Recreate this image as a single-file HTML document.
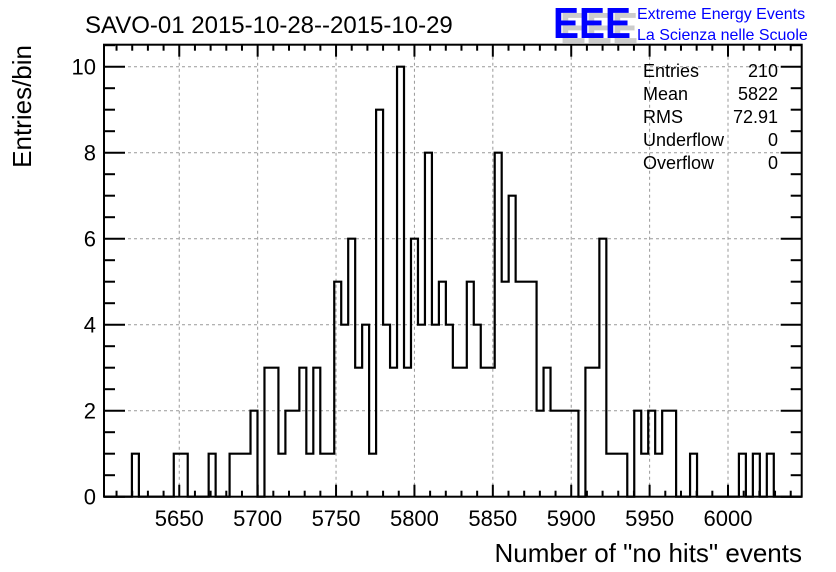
<!DOCTYPE html>
<html><head><meta charset="utf-8"><style>
html,body{margin:0;padding:0;background:#fff;}
svg{display:block;font-family:"Liberation Sans",Arial,sans-serif;}
</style></head><body>
<svg id="chart" width="836" height="572" viewBox="0 0 836 572" xmlns="http://www.w3.org/2000/svg">
<rect width="836" height="572" fill="#fff"/>
<g id="grid"></g>
<g id="axes"></g>
<path id="hist" fill="none" stroke="#000" stroke-width="2.2"/>
<rect x="104" y="44.7" width="697.7" height="452" fill="none" stroke="#000" stroke-width="2"/>
<text x="85" y="33" font-size="24" fill="#000">SAVO-01 2015-10-28--2015-10-29</text>
<g>
<text x="560" y="43" font-size="44" font-weight="bold" fill="#ccc" textLength="78" lengthAdjust="spacingAndGlyphs">EEE</text>
<text x="553" y="38" font-size="44" font-weight="bold" fill="#0000ff" textLength="78" lengthAdjust="spacingAndGlyphs">EEE</text>
<text x="637" y="19" font-size="16" fill="#0000ff">Extreme Energy Events</text>
<text x="637" y="40" font-size="16" fill="#0000ff">La Scienza nelle Scuole</text>
</g>
<g font-size="18" fill="#000">
<text x="643" y="77">Entries</text><text x="778" y="77" text-anchor="end">210</text>
<text x="643" y="100">Mean</text><text x="778" y="100" text-anchor="end">5822</text>
<text x="643" y="123">RMS</text><text x="778" y="123" text-anchor="end">72.91</text>
<text x="643" y="146">Underflow</text><text x="778" y="146" text-anchor="end">0</text>
<text x="643" y="169">Overflow</text><text x="778" y="169" text-anchor="end">0</text>
</g>
<text x="802" y="562" font-size="26" text-anchor="end">Number of "no hits" events</text>
<text transform="translate(31,45) rotate(-90)" font-size="26" text-anchor="end">Entries/bin</text>
</svg>
<script>
const binCounts = [0,0,0,0,1,0,0,0,0,0,1,1,0,0,0,1,0,0,1,1,1,2,0,3,3,1,2,2,3,1,3,1,1,5,4,6,3,4,1,9,4,3,10,3,6,4,8,4,5,4,3,3,5,4,3,3,8,5,7,5,5,5,2,3,2,2,2,2,0,3,3,6,1,1,1,0,2,1,2,1,2,2,0,0,1,0,0,0,0,0,0,1,0,1,0,1,0,0,0,0];
const xMin = 5602, xMax = 6047;
const xTickLabels = [5650,5700,5750,5800,5850,5900,5950,6000];
const yTickLabels = [0,2,4,6,8,10];
const NS="http://www.w3.org/2000/svg";
const L=104,R=801.7,T=44.7,B=496.7;
const yMaxVal = (B-T)/43;
const sx=v=>L+(v-xMin)/(xMax-xMin)*(R-L);
const sy=v=>B-v/yMaxVal*(B-T);
const grid=document.getElementById('grid'), axes=document.getElementById('axes');
function mk(tag,attrs,parent){const e=document.createElementNS(NS,tag);for(const k in attrs)e.setAttribute(k,attrs[k]);parent.appendChild(e);return e;}
xTickLabels.forEach(v=>{
  const g=mk('line',{x1:sx(v),x2:sx(v),y1:T,y2:B,stroke:'#999','stroke-width':1,'stroke-dasharray':'3,3'},grid);
  
  
  const t=mk('text',{x:sx(v),y:526,'font-size':22,'text-anchor':'middle'},axes);
  t.textContent=v;
  
  
});
yTickLabels.forEach(v=>{
  if(v>0){const g=mk('line',{x1:L,x2:R,y1:sy(v),y2:sy(v),stroke:'#999','stroke-width':1,'stroke-dasharray':'3,3'},grid);
  
  }
  const t=mk('text',{x:96,y:sy(v)+8,'font-size':22,'text-anchor':'end'},axes);
  t.textContent=v;
  
  
});
for(let v=5610;v<=xMax;v+=10){
  const len=(v%50===0)?12:6;
  mk('line',{x1:sx(v),x2:sx(v),y1:B,y2:B-len,stroke:'#000','stroke-width':2},axes);
  mk('line',{x1:sx(v),x2:sx(v),y1:T,y2:T+len,stroke:'#000','stroke-width':2},axes);
}
for(let v=0;v<=yMaxVal;v+=0.5){
  const len=(v%2===0)?21:11;
  mk('line',{x1:L,x2:L+len,y1:sy(v),y2:sy(v),stroke:'#000','stroke-width':2},axes);
  mk('line',{x1:R,x2:R-len,y1:sy(v),y2:sy(v),stroke:'#000','stroke-width':2},axes);
}
const w=(xMax-xMin)/binCounts.length;
let d='M'+sx(xMin)+','+sy(0);
binCounts.forEach((c,i)=>{const x0=sx(xMin+i*w),x1=sx(xMin+(i+1)*w);d+=' L'+x0+','+sy(c)+' L'+x1+','+sy(c);});
d+=' L'+sx(xMax)+','+sy(0);
document.getElementById('hist').setAttribute('d',d);
</script>
</body></html>
